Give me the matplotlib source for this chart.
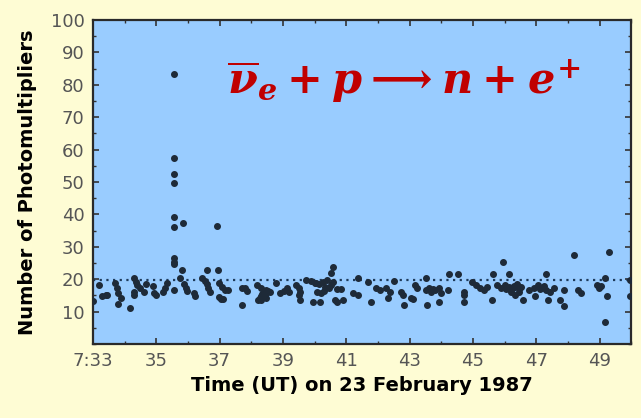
import numpy as np
import matplotlib.pyplot as plt
from matplotlib.ticker import MultipleLocator

# event times (minutes after 7:00 UT) and number of photomultipliers hit
minutes = [
    33.0, 33.2, 33.3, 33.4, 33.45, 33.7, 33.75, 33.8, 33.9, 33.78, 34.16,
    34.3, 34.35, 34.4, 34.5, 34.6, 34.3, 34.3, 34.68, 34.9, 34.94, 35.0,
    35.2, 35.26, 35.33, 35.55, 35.74, 35.8, 35.87, 35.93, 35.96, 36.2, 36.22,
    36.45, 36.53, 36.6, 36.64, 36.68, 36.6, 36.95, 36.97, 37.07, 37.17, 37.26,
    36.97, 37.03, 37.1, 37.7, 37.8, 37.87, 37.72, 38.17, 38.3, 38.39, 38.45,
    38.26, 38.32, 38.39, 38.45, 38.52, 38.2, 38.32, 38.45, 38.78, 38.9, 39.03,
    39.14, 39.19, 39.42, 39.49, 39.55, 39.49, 39.55, 39.74, 39.87, 40.0, 40.13,
    40.26, 40.39, 39.94, 40.16, 40.07, 40.2, 40.33, 40.45, 40.52, 40.58, 40.71,
    40.84, 40.52, 40.58, 40.65, 40.71, 40.9, 41.2, 41.36, 41.36, 41.68, 41.79,
    41.94, 42.07, 42.26, 42.39, 42.33, 42.5, 42.72, 42.78, 42.82, 43.04, 43.1,
    43.17, 43.23, 43.5, 43.5, 43.6, 43.68, 43.81, 43.92, 43.56, 43.94, 44.0,
    44.24, 44.52, 44.2, 44.72, 44.72, 44.72, 44.98, 45.1, 45.23, 45.36, 45.6,
    45.62, 45.75, 45.88, 46.01, 46.14, 46.27, 46.4, 46.53, 45.96, 46.14, 46.2,
    46.33, 46.46, 46.59, 46.78, 46.91, 47.04, 47.17, 47.3, 47.43, 46.95, 47.3,
    47.37, 47.56, 47.75, 47.88, 47.88, 48.33, 48.4, 48.2, 48.92, 48.98, 49.05,
    49.18, 49.22, 49.18, 49.28, 49.95, 49.95,
    35.55, 35.55, 35.55, 35.55, 35.55, 35.55, 35.83, 36.93, 35.55, 35.55, 35.55,
    38.35, 38.6, 40.05, 40.3, 46.3, 46.45, 46.05, 47.1, 47.25, 45.45, 43.75,
]
n_pmt = [
    13.3, 18.2, 14.8, 15.1, 15.2, 18.7, 17.2, 15.6, 14.1, 12.2, 11.0,
    20.3, 19.2, 18.2, 17.2, 16.2, 16.2, 15.1, 18.4, 18.0, 15.6, 15.1,
    16.2, 17.2, 18.7, 16.7, 20.3, 22.8, 18.4, 17.4, 16.4, 15.6, 14.8,
    20.5, 19.4, 18.4, 17.4, 16.2, 22.8, 22.8, 18.7, 17.7, 16.7, 16.7,
    14.4, 13.9, 13.8, 17.4, 17.2, 16.5, 11.9, 18.2, 17.2, 16.2, 16.7,
    14.1, 14.8, 15.1, 15.6, 16.4, 13.6, 13.6, 14.1, 18.7, 15.6, 16.4,
    17.2, 16.2, 18.2, 17.2, 16.2, 15.1, 13.6, 19.8, 19.4, 18.7, 18.4,
    19.2, 19.8, 13.1, 12.9, 16.2, 15.6, 17.7, 17.2, 18.2, 19.2, 16.9,
    17.0, 21.8, 23.9, 13.6, 13.1, 13.6, 15.6, 15.1, 20.5, 19.2, 12.9,
    17.2, 16.7, 17.2, 16.2, 14.1, 19.4, 16.2, 15.1, 12.0, 14.1, 13.8,
    18.2, 17.2, 20.5, 16.7, 17.2, 16.2, 16.7, 17.2, 12.0, 13.1, 15.6,
    21.5, 21.5, 16.7, 16.2, 15.1, 12.9, 19.0, 18.2, 17.2, 16.7, 13.6,
    21.5, 18.2, 17.2, 18.2, 17.7, 17.2, 18.4, 17.7, 25.4, 21.5, 16.2,
    15.1, 16.2, 13.6, 16.7, 17.2, 18.2, 17.2, 16.7, 16.2, 14.8, 21.5,
    13.6, 17.2, 13.6, 11.8, 16.7, 16.7, 15.9, 27.5, 18.2, 17.4, 18.0,
    20.3, 14.8, 6.9, 28.5, 19.8, 14.8,
    83.2, 57.5, 52.5, 49.8, 39.3, 36.2, 37.5, 36.4, 26.4, 25.4, 24.8,
    15.4, 16.0, 18.9, 16.5, 17.9, 17.0, 16.9, 16.9, 18.0, 17.5, 16.9,
]
threshold = 19.7

x_ticks = [33, 35, 37, 39, 41, 43, 45, 47, 49]
x_labels = ['7:33', '35', '37', '39', '41', '43', '45', '47', '49']
y_ticks = [10, 20, 30, 40, 50, 60, 70, 80, 90, 100]

cream = '#fefcd4'
blue = '#99ccff'

fig = plt.figure(figsize=(6.41, 4.18), dpi=100, facecolor=cream)
ax = fig.add_axes([0.145, 0.177, 0.84, 0.775])
ax.set_facecolor(blue)

ax.scatter(minutes, n_pmt, s=16, color='#1e2a38', zorder=3)
ax.axhline(threshold, color='#1e3a5a', linestyle=(0, (1, 2)), linewidth=1.6, zorder=2)

ax.set_xlim(33, 50)
ax.set_ylim(0, 100)
ax.set_xticks(x_ticks)
ax.set_xticklabels(x_labels)
ax.set_yticks(y_ticks)
ax.xaxis.set_minor_locator(MultipleLocator(1))
ax.yaxis.set_minor_locator(MultipleLocator(5))
ax.tick_params(which='both', direction='in', top=True, right=True,
               colors='#333333', labelcolor='#555555', labelsize=13, pad=6)
ax.tick_params(which='major', length=4, width=1.2)
ax.tick_params(which='minor', length=2.5, width=1)
for s in ax.spines.values():
    s.set_color('#2a2a2a')
    s.set_linewidth(1.6)

ax.set_ylabel('Number of Photomultipliers', fontsize=14, fontweight='bold', labelpad=10)
ax.set_xlabel('Time (UT) on 23 February 1987', fontsize=14, fontweight='bold', labelpad=4)

plt.rcParams['mathtext.fontset'] = 'custom'
plt.rcParams['mathtext.it'] = 'DejaVu Serif:italic:bold'
plt.rcParams['mathtext.rm'] = 'DejaVu Serif:bold'
ax.text(0.905, 0.81, r'$\overline{\nu}_e + p \longrightarrow n + e^{+}$',
        transform=ax.transAxes, ha='right', va='center', fontsize=31,
        color='#c00000')

fig.savefig('out.png', dpi=100, facecolor=cream)
